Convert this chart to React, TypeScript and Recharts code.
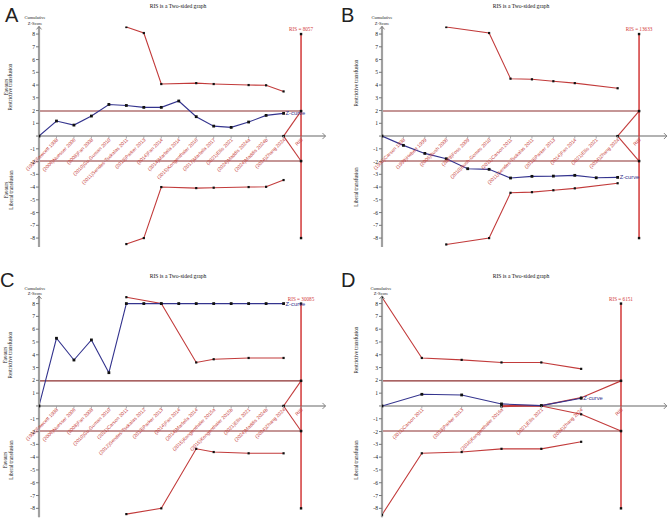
import React from 'react';
import { ComposedChart, Line, XAxis, YAxis, ReferenceLine, ReferenceDot } from 'recharts';

const BLUE = '#34348e';
const RED = '#c23b3b';
const DARK_RED = '#8c2f2f';
const RIS_RED = '#d23838';
const GREY = '#a0a0a0';

const yTicks = [8, 7, 6, 5, 4, 3, 2, 1, 0, -1, -2, -3, -4, -5, -6, -7, -8];
const conventional = 1.96;
const risSpan = 8;

// A
const studiesA = [
  '(1998)Fawcett 1998', '(2006)Nuesser 2006', '(2008)Fan 2008', '(2010)Gu-Guman 2010',
  '(2011)Sendes-Tsokalas 2011', '(2013)Parker 2013', '(2014)Fan 2014', '(2014)Marfella 2014',
  '(2015)Kongenthaler 2016', '(2017)Marfella 2017', '(2021)Ellis 2021', '(2024)Maddis 2024a',
  '(2024)Maddis 2024b', '(2024)Zhang 2024',
];
const zA = [0, 1.18, 0.86, 1.57, 2.48, 2.4, 2.25, 2.25, 2.75, 1.52, 0.78, 0.68, 1.1, 1.62, 1.78];
const upperA = [null, null, null, null, null, 8.55, 8.08, 4.08, null, 4.15, 4.08, null, 4.0, 3.98, 3.5];
const lowerA = [null, null, null, null, null, -8.47, -8.0, -4.0, null, -4.08, -4.05, null, -4.0, -3.98, -3.45];
const futUpA = [null, null, null, null, null, null, null, null, null, null, null, null, null, null, 0, 1.96];
const futLoA = [null, null, null, null, null, null, null, null, null, null, null, null, null, null, 0, -1.96];

// B
const studiesB = [
  '(1998)Carson 1998', '(1999)Hebert 1999', '(2006)Bush 2006', '(2009)Foss 2009',
  '(2010)Bush-Gomes 2010', '(2011)Carson 2011', '(2011)Sendes-Tsokalas 2011', '(2013)Parker 2013',
  '(2014)Fan 2014', '(2021)Ellis 2021', '(2024)Zhang 2024',
];
const zB = [0, -0.73, -1.36, -1.78, -2.56, -2.61, -3.29, -3.16, -3.14, -3.08, -3.27, -3.24];
const upperB = [null, null, null, 8.55, null, 8.08, 4.5, 4.45, 4.3, 4.15, null, 3.75];
const lowerB = [null, null, null, -8.5, null, -8.0, -4.45, -4.4, -4.25, -4.1, null, -3.7];
const futUpB = [null, null, null, null, null, null, null, null, null, null, null, 0, 1.96];
const futLoB = [null, null, null, null, null, null, null, null, null, null, null, 0, -1.96];

// C
const studiesC = [
  '(1998)Fawcett 1998', '(2006)Nuesser 2006', '(2008)Fan 2008', '(2010)Gu-Guman 2010',
  '(2011)Carson 2011', '(2012)Sendes-Tsokalas 2012', '(2013)Parker 2013', '(2014)Fan 2014',
  '(2014)Marfella 2014', '(2015)Kongenthaler 2015a', '(2015)Kongenthaler 2015b', '(2021)Ellis 2021',
  '(2024)Maddis 2024b', '(2024)Zhang 2024',
];
const zC = [0, 5.29, 3.59, 5.16, 2.6, 8, 8, 8, 8, 8, 8, 8, 8, 8, 8];
const upperC = [null, null, null, null, null, 8.5, null, 8.0, null, 3.4, 3.65, null, 3.75, null, 3.75];
const lowerC = [null, null, null, null, null, -8.45, null, -8.0, null, -3.35, -3.6, null, -3.7, null, -3.7];
const futUpC = [null, null, null, null, null, null, null, null, null, null, null, null, null, null, 0, 1.96];
const futLoC = [null, null, null, null, null, null, null, null, null, null, null, null, null, null, 0, -1.96];

// D
const studiesD = [
  '(2011)Carson 2011', '(2013)Parker 2013', '(2016)Kongenthaler 2016a', '(2021)Ellis 2021', '(2024)Zhang 2024',
];
const zD = [0, 0.91, 0.86, 0.16, 0.03, 0.6];
const upperD = [8.5, 3.75, 3.6, 3.4, 3.4, 2.9];
const lowerD = [-8.5, -3.7, -3.6, -3.35, -3.35, -2.8];
const futUpD = [null, null, null, 0.05, 0.03, 0.65, 1.96];
const futLoD = [null, null, null, -0.05, 0, -0.65, -1.96];

type Num = number | null;
interface PanelDef {
  left: number; top: number; width: number; height: number;
  axisW: number; mTop: number; mBottom: number; mRight: number; xMax: number;
  labels: string[]; z: Num[]; up: Num[]; lo: Num[]; fu: Num[]; fl: Num[]; ris: string;
}

const panels: PanelDef[] = [
  { left: 0, top: 0, width: 335, height: 260, axisW: 39, mTop: 26.4, mBottom: 13, mRight: 9.5, xMax: 16.4,
    labels: studiesA, z: zA, up: upperA, lo: lowerA, fu: futUpA, fl: futLoA, ris: 'RIS = 8057' },
  { left: 335, top: 0, width: 334, height: 260, axisW: 47, mTop: 26.4, mBottom: 13, mRight: 2.1, xMax: 13.3,
    labels: studiesB, z: zB, up: upperB, lo: lowerB, fu: futUpB, fl: futLoB, ris: 'RIS = 13633' },
  { left: 0, top: 260, width: 335, height: 258, axisW: 39, mTop: 35.9, mBottom: 0.7, mRight: 9.5, xMax: 16.4,
    labels: studiesC, z: zC, up: upperC, lo: lowerC, fu: futUpC, fl: futLoC, ris: 'RIS = 30085' },
  { left: 335, top: 260, width: 334, height: 258, axisW: 47, mTop: 35.9, mBottom: 0.7, mRight: 2.2, xMax: 7.15,
    labels: studiesD, z: zD, up: upperD, lo: lowerD, fu: futUpD, fl: futLoD, ris: 'RIS = 6151' },
];

function rowsFor(p: PanelDef) {
  const n = p.labels.length + 2;
  return Array.from({ length: n }, (_, i) => ({
    i,
    z: p.z[i] ?? null,
    up: p.up[i] ?? null,
    lo: p.lo[i] ?? null,
    fu: p.fu[i] ?? null,
    fl: p.fl[i] ?? null,
  }));
}

const square = (size: number, fill: string) => (d: any) => {
  const key = `${d.dataKey}-${d.index}`;
  if (d.cx == null || d.cy == null || d.value == null) return <g key={key} />;
  return <rect key={key} x={d.cx - size / 2} y={d.cy - size / 2} width={size} height={size} fill={fill} />;
};

function StudyTick({ cx, cy, text }: { cx: number; cy: number; text: string }) {
  const ax = cx + 2;
  const ay = cy + 4.2;
  return (
    <g>
      <line x1={cx} y1={cy} x2={cx} y2={cy + 2.5} stroke="#999" strokeWidth={0.8} />
      <text x={ax} y={ay} transform={`rotate(-45 ${ax} ${ay})`} textAnchor="end"
        fontSize={4.9} fontFamily="Liberation Sans, Arial, sans-serif" fill="#c63c38">{text}</text>
    </g>
  );
}

function TsaPanel({ p }: { p: PanelDef }) {
  const rows = rowsFor(p);
  const risX = p.labels.length + 1;
  const lastZ = p.z.length - 1;
  const ticks = [...p.labels, 'RIS'];
  return (
    <div style={{ position: 'absolute', left: p.left, top: p.top }}>
      <ComposedChart width={p.width} height={p.height} data={rows}
        margin={{ top: p.mTop, right: p.mRight, bottom: p.mBottom, left: 0 }}>
        <XAxis dataKey="i" type="number" domain={[0, p.xMax]} hide allowDataOverflow />
        <YAxis type="number" domain={[-8.7, 8.6]} ticks={yTicks} allowDataOverflow interval={0}
          width={p.axisW} tickFormatter={(v: number) => (v === 0 ? '' : String(v))}
          tick={{ fontSize: 5.6, fill: '#222', fontFamily: 'Liberation Serif, serif' }}
          tickSize={3} tickMargin={1} tickLine={{ stroke: '#777' }} axisLine={{ stroke: GREY, strokeWidth: 2.2 }} />
        <ReferenceLine y={0} stroke="#999" strokeWidth={1.4} />
        <ReferenceLine segment={[{ x: 0, y: conventional }, { x: risX, y: conventional }]} stroke={DARK_RED} strokeWidth={1.1} />
        <ReferenceLine segment={[{ x: 0, y: -conventional }, { x: risX, y: -conventional }]} stroke={DARK_RED} strokeWidth={1.1} />
        <ReferenceLine segment={[{ x: risX, y: -risSpan }, { x: risX, y: risSpan }]} stroke={RIS_RED} strokeWidth={1.5} />
        <Line dataKey="up" type="linear" stroke={RED} strokeWidth={1.1} connectNulls dot={square(2.2, '#111')} activeDot={false} isAnimationActive={false} />
        <Line dataKey="lo" type="linear" stroke={RED} strokeWidth={1.1} connectNulls dot={square(2.2, '#111')} activeDot={false} isAnimationActive={false} />
        <Line dataKey="fu" type="linear" stroke={RED} strokeWidth={1.1} connectNulls dot={square(2.2, '#111')} activeDot={false} isAnimationActive={false} />
        <Line dataKey="fl" type="linear" stroke={RED} strokeWidth={1.1} connectNulls dot={square(2.2, '#111')} activeDot={false} isAnimationActive={false} />
        <Line dataKey="z" type="linear" stroke={BLUE} strokeWidth={1.1} connectNulls dot={square(2.8, '#111')} activeDot={false} isAnimationActive={false} />
        {ticks.map((t, k) => (
          <ReferenceDot key={`t${k}`} x={k + 1} y={0} ifOverflow="visible"
            shape={(s: any) => <StudyTick cx={s.cx} cy={s.cy} text={t} />} />
        ))}
        {[risSpan, conventional, -conventional, -risSpan].map((v) => (
          <ReferenceDot key={`r${v}`} x={risX} y={v} ifOverflow="visible"
            shape={(s: any) => <rect x={s.cx - 1.2} y={s.cy - 1.2} width={2.4} height={2.4} fill="#111" />} />
        ))}
        <ReferenceDot x={risX} y={risSpan} ifOverflow="visible"
          shape={(s: any) => (
            <text x={s.cx} y={s.cy - 3} textAnchor="middle" fontSize={5.2}
              fontFamily="Liberation Serif, serif" fill={RIS_RED}>{p.ris}</text>
          )} />
        <ReferenceDot x={lastZ} y={p.z[lastZ] as number} ifOverflow="visible"
          shape={(s: any) => (
            <text x={s.cx + 2} y={s.cy + 2} fontSize={5.8}
              fontFamily="Liberation Sans, Arial, sans-serif" fill={BLUE}>Z-curve</text>
          )} />
        <ReferenceDot x={0} y={8.6} ifOverflow="visible"
          shape={(s: any) => (
            <path d={`M${s.cx - 2.5},${s.cy + 3} L${s.cx},${s.cy} L${s.cx + 2.5},${s.cy + 3}`} fill="none" stroke="#777" strokeWidth={0.9} />
          )} />
        <ReferenceDot x={p.xMax} y={0} ifOverflow="visible"
          shape={(s: any) => (
            <path d={`M${s.cx - 3},${s.cy - 3} L${s.cx},${s.cy} L${s.cx - 3},${s.cy + 3}`} fill="none" stroke="#777" strokeWidth={0.9} />
          )} />
      </ComposedChart>
    </div>
  );
}

const SERIF = 'Liberation Serif, serif';

function SideLabel({ x, y, lines }: { x: number[]; y: number; lines: string[] }) {
  return (
    <>
      {lines.map((l, k) => (
        <text key={l} x={x[k]} y={y} transform={`rotate(-90 ${x[k]} ${y})`} textAnchor="middle"
          fontSize={5.2} fontFamily={SERIF} fill="#222">{l}</text>
      ))}
    </>
  );
}

function Overlay() {
  const title = 'RIS is a Two-sided graph';
  return (
    <svg width={669} height={518} style={{ position: 'absolute', left: 0, top: 0, pointerEvents: 'none' }}>
      <g fontFamily="Liberation Sans, Arial, sans-serif" fontSize={20} fill="#222">
        <text x={5} y={22}>A</text>
        <text x={341} y={22}>B</text>
        <text x={0} y={287}>C</text>
        <text x={341} y={287}>D</text>
      </g>
      <g fontFamily={SERIF} fontSize={5.6} fill="#111" textAnchor="middle">
        <text x={178} y={8}>{title}</text>
        <text x={521} y={8}>{title}</text>
        <text x={178} y={278}>{title}</text>
        <text x={521} y={278}>{title}</text>
      </g>
      <g fontFamily={SERIF} fontSize={4.5} fill="#222" textAnchor="middle">
        <text x={35} y={18.7}>Cumulative</text>
        <text x={35} y={24.5}>Z-Score</text>
        <text x={382} y={18.7}>Cumulative</text>
        <text x={382} y={24.5}>Z-Score</text>
        <text x={35} y={289.5}>Cumulative</text>
        <text x={35} y={295.3}>Z-Score</text>
        <text x={381} y={289.5}>Cumulative</text>
        <text x={381} y={295.3}>Z-Score</text>
      </g>
      <SideLabel x={[7.5, 12.3]} y={87} lines={['Favours', 'Restrictive transfusion']} />
      <SideLabel x={[7.5, 12.8]} y={190} lines={['Favours', 'Liberal transfusion']} />
      <SideLabel x={[357.8]} y={83} lines={['Restrictive transfusion']} />
      <SideLabel x={[357.8]} y={187} lines={['Liberal transfusion']} />
      <SideLabel x={[6.8, 12]} y={355} lines={['Favours', 'Restrictive transfusion']} />
      <SideLabel x={[7.3, 12.8]} y={460} lines={['Favours', 'Liberal transfusion']} />
      <SideLabel x={[357.8]} y={350} lines={['Restrictive transfusion']} />
      <SideLabel x={[357.8]} y={460} lines={['Liberal transfusion']} />
    </svg>
  );
}

export default function App() {
  return (
    <div style={{ position: 'absolute', left: 0, top: 0, width: 669, height: 518, background: '#fff' }}>
      {panels.map((p, k) => <TsaPanel key={k} p={p} />)}
      <Overlay />
    </div>
  );
}
